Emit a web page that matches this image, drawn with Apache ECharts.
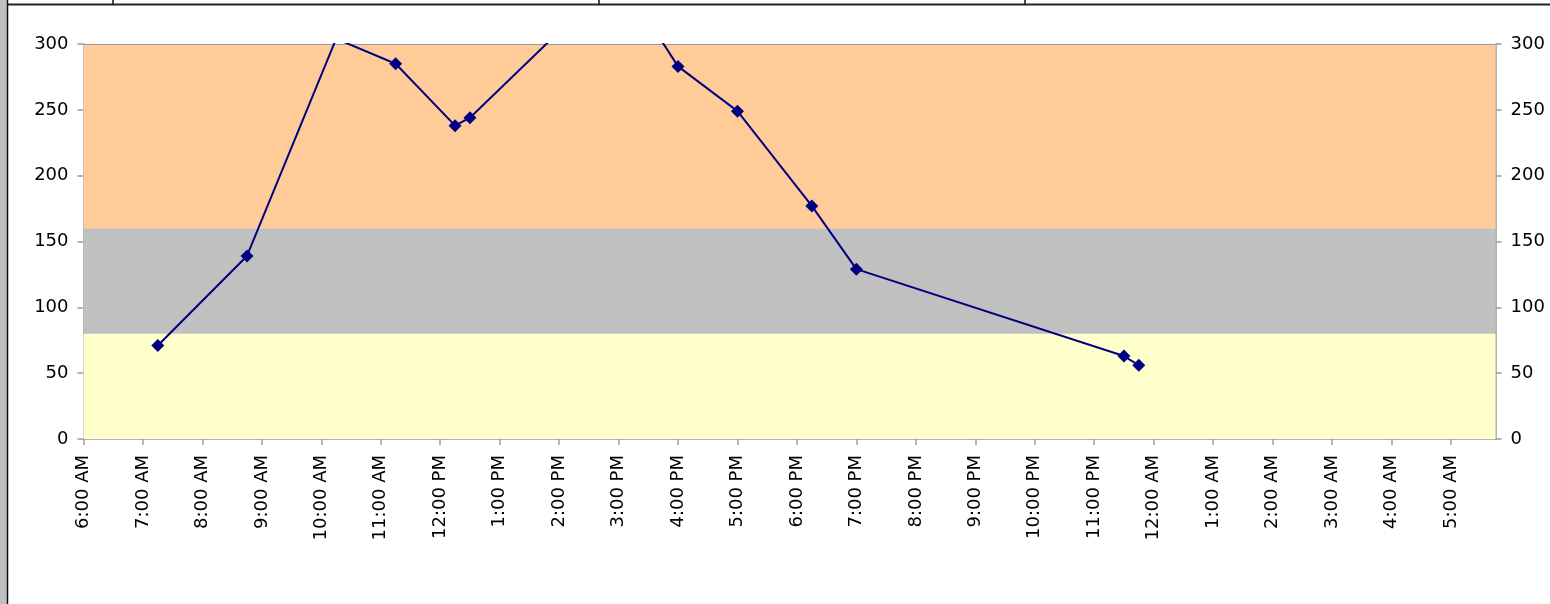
<!DOCTYPE html>
<html>
<head>
<meta charset="utf-8">
<script src="https://cdn.jsdelivr.net/npm/echarts@6/dist/echarts.min.js"></script>
<style>
html,body{margin:0;padding:0;background:#fff;}
#chart{width:1550px;height:604px;}
</style>
</head>
<body>
<div id="chart"></div>
<script>
// Time of each reading, in hours after midnight of day 1 (values > 24 run into the next day)
var readingHours = [7.25, 8.75, 10.25, 11.25, 12.25, 12.5, 15, 16, 17, 18.25, 19, 23.5, 23.75];
// Reading values
var readingValues = [71, 139, 304, 285, 238, 244, 353, 283, 249, 177, 129, 63, 56];
// Hour tick positions on the x axis (6:00 AM through 5:00 AM next day)
var hourTicks = [6, 7, 8, 9, 10, 11, 12, 13, 14, 15, 16, 17, 18, 19, 20, 21, 22, 23, 24, 25, 26, 27, 28, 29];
var xMin = 6, xMax = 29.75;
// Background band boundaries and colours
var bandEdges = [0, 80, 160, 300];
var bandColors = ['#FFFFCC', '#C0C0C0', '#FFCC99'];

function hourLabel(h) {
  if (Math.abs(h - Math.round(h)) > 1e-6) return '';
  var hh = ((Math.round(h) % 24) + 24) % 24;
  var ap = hh < 12 ? 'AM' : 'PM';
  var h12 = hh % 12 === 0 ? 12 : hh % 12;
  return h12 + ':00 ' + ap;
}

var seriesData = readingHours.map(function (h, i) { return [h, readingValues[i]]; });
var bands = [];
for (var i = 0; i < bandColors.length; i++) {
  bands.push([{ yAxis: bandEdges[i], itemStyle: { color: bandColors[i] } }, { yAxis: bandEdges[i + 1] }]);
}

var FONT = 'DejaVu Sans';
var FS = 18;
var axisCol = '#9a9a9a';
var chart = echarts.init(document.getElementById('chart'));
var yAxisCommon = {
  type: 'value', min: 0, max: 300, interval: 50,
  axisLine: { show: true, lineStyle: { color: axisCol, width: 1.5 } },
  axisTick: { show: true, length: 6, lineStyle: { color: axisCol, width: 1.5 } },
  splitLine: { show: false },
  axisLabel: { color: '#000', fontFamily: FONT, fontSize: FS, margin: 15 }
};
chart.setOption({
  animation: false,
  backgroundColor: '#fff',
  grid: { left: 83.5, right: 54.5, top: 44, bottom: 165, containLabel: false, outerBoundsMode: 'none', show: false },
  xAxis: {
    type: 'value', min: xMin, max: xMax, interval: 1,
    axisLine: { show: true, onZero: false, lineStyle: { color: axisCol, width: 1.5 } },
    axisTick: { show: true, length: 6, customValues: hourTicks, lineStyle: { color: axisCol, width: 1.5 } },
    splitLine: { show: false },
    axisLabel: {
      rotate: 90, margin: 16, color: '#000', fontFamily: FONT, fontSize: FS,
      customValues: hourTicks,
      formatter: function (v) { return hourLabel(v); }
    }
  },
  yAxis: [
    Object.assign({}, yAxisCommon, { position: 'left' }),
    Object.assign({}, yAxisCommon, { position: 'right' })
  ],
  graphic: [
    { type: 'rect', shape: { x: 0, y: 0, width: 7, height: 604 }, style: { fill: '#c0c0c0' }, z: 100 },
    { type: 'line', shape: { x1: 7.5, y1: 0, x2: 7.5, y2: 604 }, style: { stroke: '#111', lineWidth: 1.5 }, z: 100 },
    { type: 'line', shape: { x1: 7, y1: 4.5, x2: 1550, y2: 4.5 }, style: { stroke: '#222', lineWidth: 2 }, z: 100 },
    { type: 'line', shape: { x1: 113, y1: 0, x2: 113, y2: 4 }, style: { stroke: '#111', lineWidth: 1.5 }, z: 100 },
    { type: 'line', shape: { x1: 599, y1: 0, x2: 599, y2: 4 }, style: { stroke: '#111', lineWidth: 1.5 }, z: 100 },
    { type: 'line', shape: { x1: 1025, y1: 0, x2: 1025, y2: 4 }, style: { stroke: '#111', lineWidth: 1.5 }, z: 100 }
  ],
  series: [
    {
      type: 'line',
      data: seriesData,
      clip: true,
      symbol: 'diamond',
      symbolSize: [13, 13],
      showAllSymbol: true,
      lineStyle: { color: '#000080', width: 2 },
      itemStyle: { color: '#000080' },
      z: 5,
      markArea: { silent: true, data: bands, z: 1 },
      markLine: {
        silent: true, symbol: 'none', label: { show: false },
        lineStyle: { color: axisCol, width: 1.2, type: 'solid' },
        data: [{ yAxis: 300 }]
      }
    }
  ]
});
</script>
</body>
</html>
